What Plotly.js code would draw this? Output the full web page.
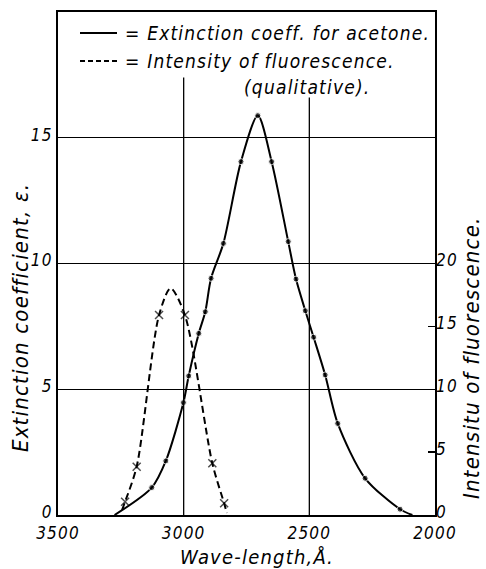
<!DOCTYPE html>
<html>
<head>
<meta charset="utf-8">
<script src="https://cdn.plot.ly/plotly-3.0.1.min.js"></script>
<style>body{margin:0;background:#fff} svg text{letter-spacing:1.2px}</style>
</head>
<body>
<div id="chart" style="width:486px;height:569px"></div>
<script>
// Extinction coefficient of acetone (left axis)
const extWave = [3275, 3127, 3071, 3001, 2980, 2940, 2914, 2891, 2842, 2772, 2705, 2650, 2584, 2553, 2516, 2483, 2437, 2387, 2278, 2139, 2090];
const extValue = [0, 1.09, 2.15, 4.47, 5.53, 7.22, 8.08, 9.41, 10.8, 14.05, 15.88, 14.05, 10.87, 9.38, 8.12, 7.07, 5.57, 3.64, 1.46, 0.23, 0];
const extMarked = [false, true, true, true, true, true, true, true, true, true, true, true, true, true, true, true, true, true, true, true, false];

// Intensity of fluorescence (right axis, qualitative)
const fluWave = [3245, 3233, 3187, 3098, 3052, 2995, 2886, 2839, 2828];
const fluValue = [0.4, 1.06, 3.84, 15.9, 18.03, 15.9, 4.11, 0.93, 0.16];
const fluMarked = [false, true, true, true, false, true, true, true, false];

const xTicks = [3500, 3000, 2500, 2000];
const xTickText = ['3500', '3000', '2500', '2000'];
const yTicks = [0, 5, 10, 15];
const y2Ticks = [0, 5, 10, 15, 20];
const vGrid = [3000, 2500];
const vGridTop = [17.4, 16.6];

const FONT = 'DejaVu Sans Condensed, DejaVu Sans, sans-serif';

const traces = [
  {
    x: extWave, y: extValue, type: 'scatter', mode: 'lines+markers',
    line: {color: '#000', width: 2, shape: 'spline', smoothing: 0.8},
    marker: {color: '#000', size: extMarked.map(m => m ? 6 : 0)},
    xaxis: 'x', yaxis: 'y', hoverinfo: 'skip'
  },
  {
    x: fluWave, y: fluValue, type: 'scatter', mode: 'lines+markers',
    line: {color: '#000', width: 2, dash: '7px,4px', shape: 'spline', smoothing: 0.8},
    marker: {color: '#000', symbol: 'x-thin', size: fluMarked.map(m => m ? 8 : 0), line: {color: '#000', width: 1.5}},
    xaxis: 'x', yaxis: 'y2', hoverinfo: 'skip'
  }
];

const px = v => (v - 58) / 377;
const py = v => (515 - v) / 503;

const shapes = vGrid.map((g, i) => ({
  type: 'line', xref: 'x', yref: 'y', x0: g, x1: g, y0: 0, y1: vGridTop[i],
  line: {color: '#000', width: 1.3}
}));
shapes.push({type: 'line', xref: 'paper', yref: 'paper', x0: px(80), x1: px(117), y0: py(33), y1: py(33), line: {color: '#000', width: 2}});
shapes.push({type: 'line', xref: 'paper', yref: 'paper', x0: px(80), x1: px(117), y0: py(61), y1: py(61), line: {color: '#000', width: 2, dash: '5px,3px'}});

const tf = {family: FONT, size: 17, color: '#000', style: 'italic'};
const lf = {family: FONT, size: 19, color: '#000', style: 'italic'};
const af = {family: FONT, size: 22, color: '#000', style: 'italic'};

const annotations = [
  {text: '= Extinction coeff. for acetone.', xref: 'paper', yref: 'paper', x: px(123), y: py(33), xanchor: 'left', yanchor: 'middle', showarrow: false, font: lf},
  {text: '= Intensity of fluorescence.', xref: 'paper', yref: 'paper', x: px(123), y: py(61), xanchor: 'left', yanchor: 'middle', showarrow: false, font: lf},
  {text: '(qualitative).', xref: 'paper', yref: 'paper', x: px(242), y: py(87), xanchor: 'left', yanchor: 'middle', showarrow: false, font: lf},
  {text: 'Wave-length,Å.', xref: 'paper', yref: 'paper', x: px(257), y: py(557), xanchor: 'center', yanchor: 'middle', showarrow: false, font: {family: FONT, size: 20, color: '#000', style: 'italic'}},
  {text: 'Extinction coefficient, ε.', xref: 'paper', yref: 'paper', x: px(20), y: py(318), xanchor: 'center', yanchor: 'middle', textangle: -90, showarrow: false, font: af},
  {text: 'Intensitu of fluorescence.', xref: 'paper', yref: 'paper', x: px(471), y: py(358), xanchor: 'center', yanchor: 'middle', textangle: -90, showarrow: false, font: af}
];

const layout = {
  width: 486, height: 569,
  margin: {l: 58, r: 51, t: 12, b: 54},
  paper_bgcolor: '#fff', plot_bgcolor: '#fff',
  showlegend: false,
  xaxis: {
    range: [3500, 2000], tickvals: xTicks, ticktext: xTickText, showgrid: false, zeroline: false,
    showline: true, mirror: true, linecolor: '#000', linewidth: 2, ticks: '', tickfont: tf, ticklabelstandoff: 2
  },
  yaxis: {
    range: [0, 20], tickvals: yTicks, showgrid: true, gridcolor: '#000', gridwidth: 1.3, zeroline: false,
    showline: true, mirror: true, linecolor: '#000', linewidth: 2, ticks: '', tickfont: tf, ticklabelshift: -3
  },
  yaxis2: {
    range: [0, 40], tickvals: y2Ticks, overlaying: 'y', side: 'right', showgrid: false, zeroline: false,
    showline: false, ticks: 'inside', ticklen: 7, tickcolor: '#000', tickwidth: 1.3, tickfont: tf, ticklabelshift: -3
  },
  shapes: shapes,
  annotations: annotations
};

Plotly.newPlot('chart', traces, layout, {displayModeBar: false, staticPlot: true});
</script>
</body>
</html>
